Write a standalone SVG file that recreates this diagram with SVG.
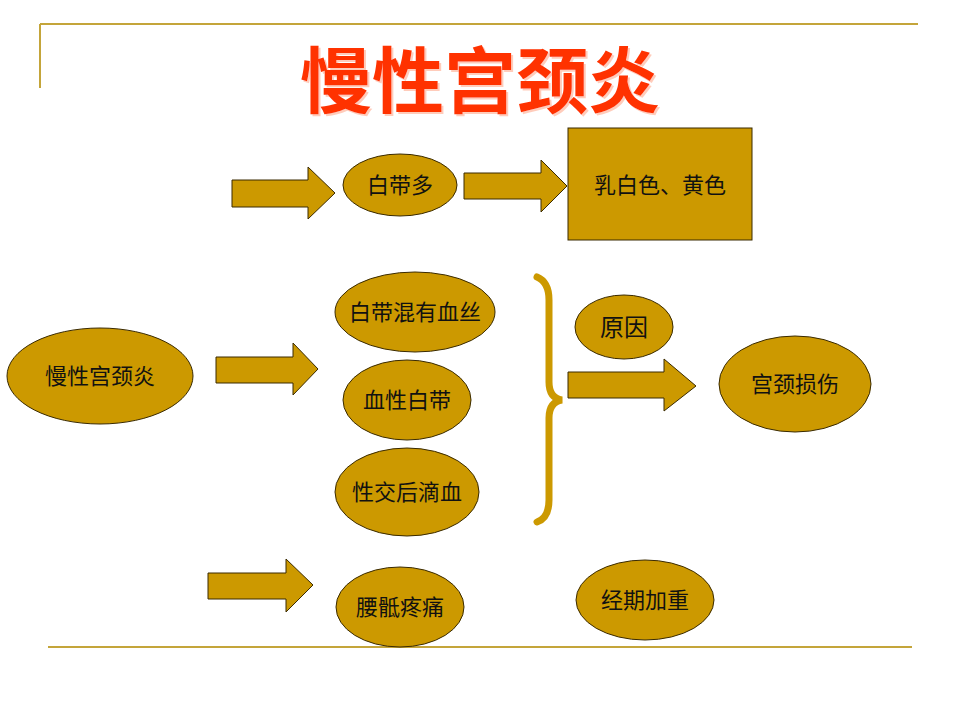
<svg xmlns="http://www.w3.org/2000/svg" width="960" height="720" viewBox="0 0 960 720">
<defs>
<filter id="sh" x="-5%" y="-10%" width="115%" height="130%">
<feDropShadow dx="2" dy="2" stdDeviation="0.6" flood-color="#FF9977" flood-opacity="0.5"/>
</filter>
</defs>
<style>
.n{fill:#CC9900;stroke:#3a2a00;stroke-width:1}
.a{fill:#CC9900;stroke:#3a2a00;stroke-width:1;stroke-linejoin:miter}
.t{font-family:"Liberation Serif","Noto Sans CJK SC",serif;font-size:22px;fill:#111;text-anchor:middle}
.rule{stroke:#C4A53A;stroke-width:2;fill:none}
.title{font-family:"Noto Sans CJK SC",sans-serif;font-weight:700;font-size:72px;text-anchor:middle}
</style>
<rect width="960" height="720" fill="#fff"/>
<g id="frame">
<line class="rule" x1="40" y1="24" x2="918" y2="24"/>
<line class="rule" x1="40" y1="24" x2="40" y2="88"/>
<line class="rule" x1="48" y1="647" x2="912" y2="647"/>
</g>
<g id="title">
<text class="title" x="480" y="107" fill="#FF3300" filter="url(#sh)">慢性宫颈炎</text>
</g>
<g id="connectors">
<polygon class="a" points="232,180 308,180 308,167 335,193 308,219 308,207 232,207"/>
<polygon class="a" points="464,173 541,173 541,160 567,186 541,212 541,199 464,199"/>
<polygon class="a" points="216,357 293,357 293,343 318,369 293,395 293,383 216,383"/>
<polygon class="a" points="568,372 664,372 664,359 696,386 664,411 664,398 568,398"/>
<polygon class="a" points="208,573 286,573 286,559 313,585 286,612 286,599 208,599"/>
<path d="M537,277 Q549,282 549,300 L549,382 Q549,398 562,400 Q549,402 549,418 L549,500 Q549,518 537,522" fill="none" stroke="#CC9900" stroke-width="7" stroke-linecap="round"/>
</g>
<g id="n_baidaiduo">
<ellipse class="n" cx="400" cy="185" rx="57" ry="31"/>
<text class="t" x="400" y="193">白带多</text>
</g>
<g id="n_color">
<rect class="n" x="568" y="128" width="184" height="112" stroke-width="1.2"/>
<text class="t" x="660" y="193">乳白色、黄色</text>
</g>
<g id="n_main">
<ellipse class="n" cx="100" cy="376" rx="93" ry="48"/>
<text class="t" x="100" y="384">慢性宫颈炎</text>
</g>
<g id="n_xuesi">
<ellipse class="n" cx="415" cy="312" rx="80" ry="40"/>
<text class="t" x="415" y="320">白带混有血丝</text>
</g>
<g id="n_xuexing">
<ellipse class="n" cx="407" cy="400" rx="64" ry="40"/>
<text class="t" x="407" y="408">血性白带</text>
</g>
<g id="n_xingjiao">
<ellipse class="n" cx="407" cy="492" rx="72" ry="44"/>
<text class="t" x="407" y="500">性交后滴血</text>
</g>
<g id="n_yuanyin">
<ellipse class="n" cx="624" cy="327" rx="49" ry="32"/>
<text class="t" x="624" y="336" style="font-size:24px">原因</text>
</g>
<g id="n_sunshang">
<ellipse class="n" cx="795" cy="384" rx="76" ry="48"/>
<text class="t" x="795" y="392">宫颈损伤</text>
</g>
<g id="n_yaodi">
<ellipse class="n" cx="400" cy="607" rx="64" ry="40"/>
<text class="t" x="400" y="615">腰骶疼痛</text>
</g>
<g id="n_jingqi">
<ellipse class="n" cx="645" cy="600" rx="69" ry="40"/>
<text class="t" x="645" y="608">经期加重</text>
</g>
</svg>
